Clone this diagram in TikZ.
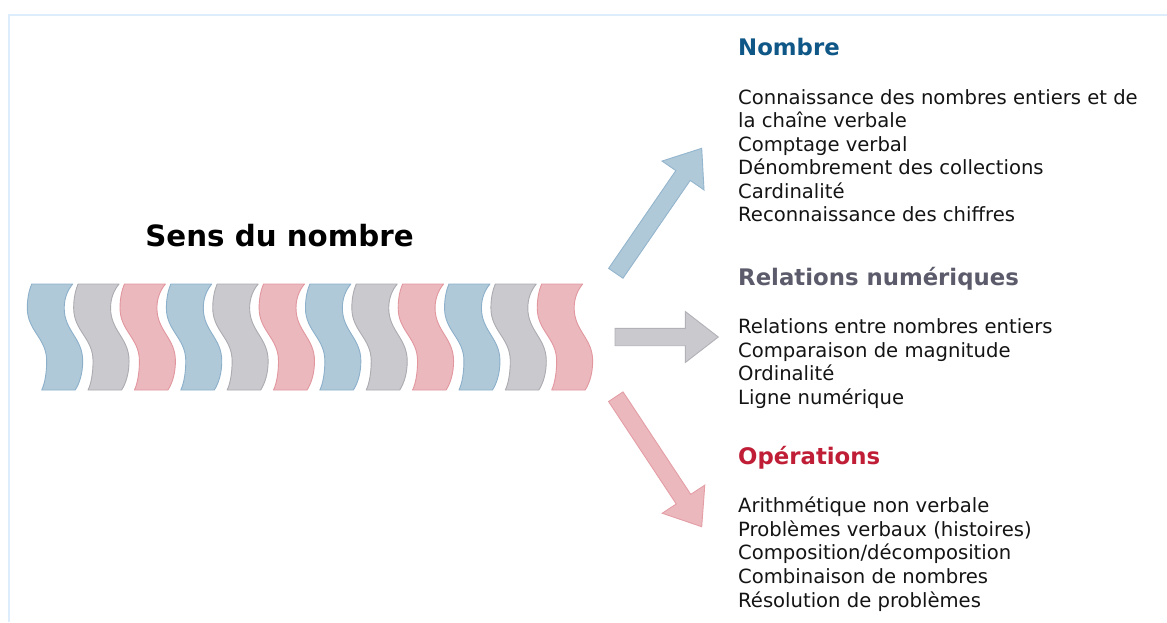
\documentclass[tikz,border=0pt]{standalone}
\usepackage{fontspec}
\setmainfont{DejaVu Sans}
\usetikzlibrary{calc}

\definecolor{frameblue}{HTML}{DDEDFB}
\definecolor{bluefill}{HTML}{B0C9D9}
\definecolor{bluedraw}{HTML}{8CB0CA}
\definecolor{grayfill}{HTML}{C9C9CE}
\definecolor{graydraw}{HTML}{ABABB1}
\definecolor{redfill}{HTML}{EBB8BE}
\definecolor{reddraw}{HTML}{E2979F}
\definecolor{headblue}{HTML}{0F5787}
\definecolor{headgray}{HTML}{5B5B6B}
\definecolor{headred}{HTML}{C01E36}
\definecolor{bodytext}{HTML}{141414}

\tikzset{
  frameline/.style={draw=frameblue, line width=2pt},
  wavepiece/.style={line width=0.9pt, line join=round},
  blockarrow/.style={line width=0.9pt, line join=miter},
  title/.style={font=\fontsize{29.3}{34}\selectfont\bfseries, inner sep=0pt, text=black},
  heading/.style={font=\fontsize{22.8}{27}\selectfont\bfseries, inner sep=0pt, anchor=base west},
  body/.style={font=\fontsize{19.6}{23.6}\selectfont, inner sep=0pt, anchor=base west, text=bodytext},
}

% block arrow from tail #1 to tip #2
\newcommand{\blockarrowpath}[2]{%
  ($(#1)!8.7pt!90:(#2)$) --
  ($($(#2)!33pt!(#1)$)!8.7pt!90:(#2)$) --
  ($($(#2)!33pt!(#1)$)!25.5pt!90:(#2)$) --
  (#2) --
  ($($(#2)!33pt!(#1)$)!25.5pt!-90:(#2)$) --
  ($($(#2)!33pt!(#1)$)!8.7pt!-90:(#2)$) --
  ($(#1)!8.7pt!-90:(#2)$) -- cycle}

\begin{document}
\begin{tikzpicture}[x=1pt, y=-1pt]
\useasboundingbox (0,0) rectangle (1167,622);
\fill[white] (0,0) rectangle (1167,622);

% thin frame on top and left
\draw[frameline] (1167,14.5) -- (8.5,14.5) -- (8.5,622);

% title above the strip
\node[title, anchor=base] (title) at (279.5,246.5) {Sens du nombre};

% strip of wavy pieces: blue, gray, red, repeated
\foreach \i in {0,...,11}{
  \pgfmathsetmacro{\xo}{31.7+\i*46.36}
  \pgfmathtruncatemacro{\k}{mod(\i,3)}
  \ifcase\k
    \def\fc{bluefill}\def\dc{bluedraw}
  \or
    \def\fc{grayfill}\def\dc{graydraw}
  \or
    \def\fc{redfill}\def\dc{reddraw}
  \fi
  \draw[wavepiece, fill=\fc, draw=\dc]
    (\xo,284) -- (\xo+41,284)
    .. controls (\xo+36,290) and (\xo+32.5,298) .. (\xo+32.5,308)
    .. controls (\xo+32.5,331) and (\xo+51,338) .. (\xo+51,361)
    .. controls (\xo+51,373) and (\xo+48,383) .. (\xo+43.5,390)
    -- (\xo+10,390)
    .. controls (\xo+13,384) and (\xo+15,373) .. (\xo+15,361)
    .. controls (\xo+15,338) and (\xo-4.4,331) .. (\xo-4.4,308)
    .. controls (\xo-4.4,298) and (\xo-2.5,290) .. (\xo,284)
    -- cycle;
}

% arrow end points
\coordinate (upT) at (615.8,273.3);
\coordinate (upP) at (701.7,148.3);
\coordinate (midT) at (615,337);
\coordinate (midP) at (718.3,337);
\coordinate (dnT) at (615.8,396.7);
\coordinate (dnP) at (701.7,526.7);

\draw[blockarrow, fill=bluefill, draw=bluedraw!80!bluefill] \blockarrowpath{upT}{upP};
\draw[blockarrow, fill=grayfill, draw=graydraw!80!grayfill] \blockarrowpath{midT}{midP};
\draw[blockarrow, fill=redfill, draw=reddraw!80!redfill] \blockarrowpath{dnT}{dnP};

% headings
\node[heading, text=headblue] (h1) at (738,55.5) {Nombre};
\node[heading, text=headgray] (h2) at (738,285.5) {Relations numériques};
\node[heading, text=headred] (h3) at (738,464.5) {Opérations};

% lists under each heading
\foreach \t [count=\i from 0] in {Connaissance des nombres entiers et de, la chaîne verbale, Comptage verbal, Dénombrement des collections, Cardinalité, Reconnaissance des chiffres}{
  \node[body] (a\i) at (738,104.5+\i*23.4) {\t};
}
\foreach \t [count=\i from 0] in {Relations entre nombres entiers, Comparaison de magnitude, Ordinalité, Ligne numérique}{
  \node[body] (b\i) at (738,333.5+\i*23.6) {\t};
}
\foreach \t [count=\i from 0] in {Arithmétique non verbale, Problèmes verbaux (histoires), Composition/décomposition, Combinaison de nombres, Résolution de problèmes}{
  \node[body] (c\i) at (738,512.5+\i*23.7) {\t};
}
\end{tikzpicture}
\end{document}
